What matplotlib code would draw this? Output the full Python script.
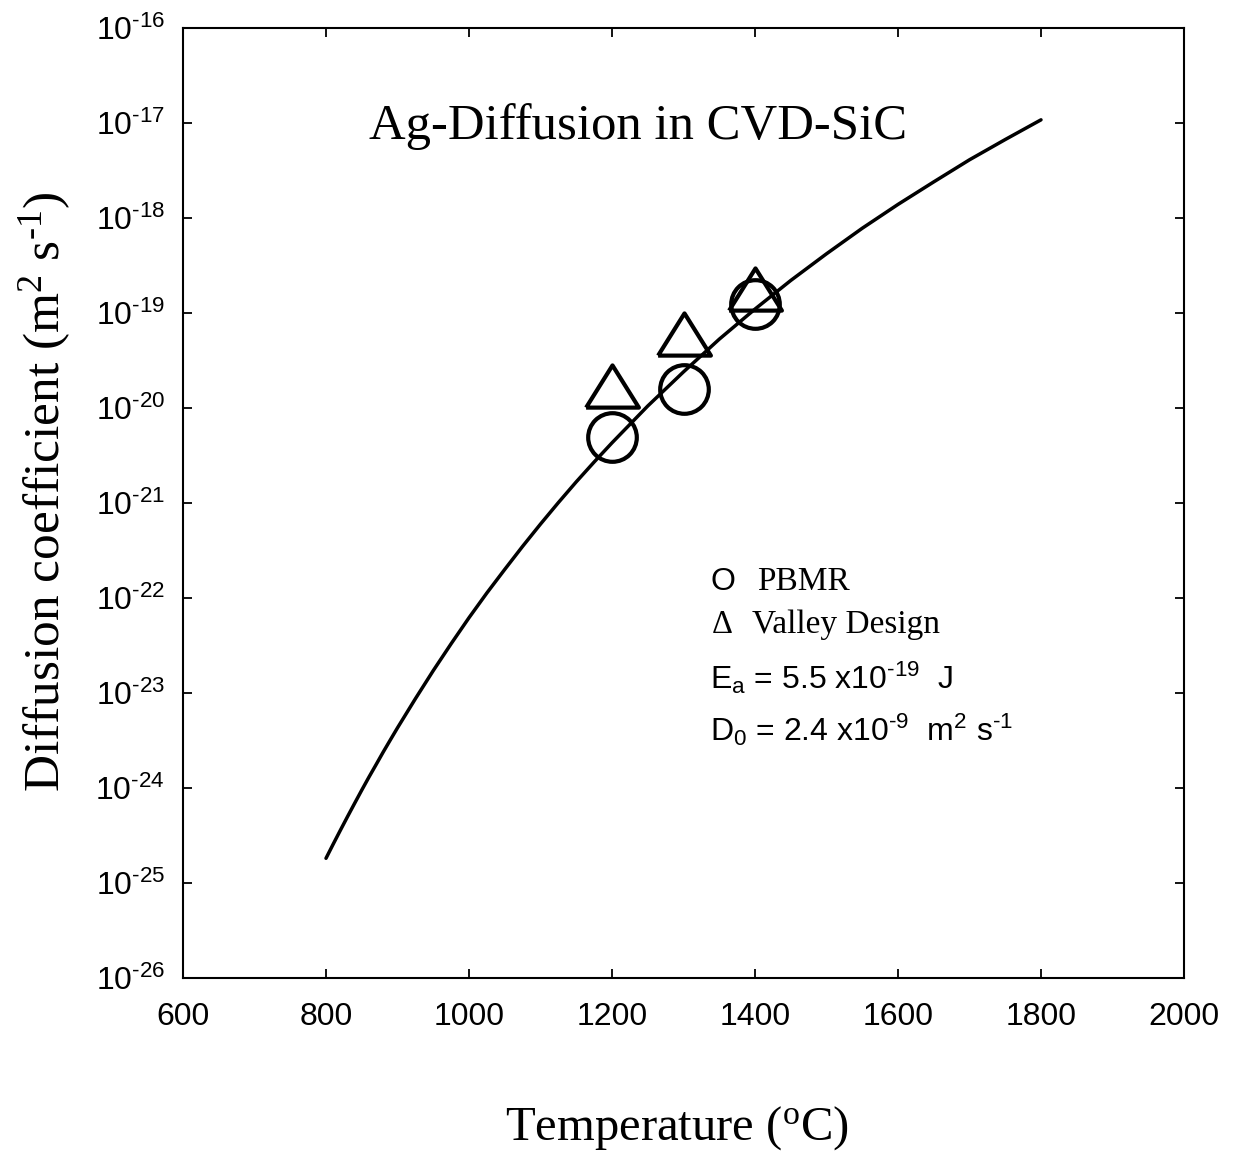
import matplotlib
matplotlib.use("Agg")
import matplotlib.pyplot as plt
from matplotlib.ticker import FixedLocator, FuncFormatter, NullLocator
import numpy as np

# ---- data ----
curve_T = [800, 810, 820, 830, 840, 850, 860, 870, 880, 890, 900, 925, 950,
           975, 1000, 1025, 1050, 1075, 1100, 1125, 1150, 1175, 1200, 1250,
           1300, 1350, 1400, 1450, 1500, 1550, 1600, 1650, 1700, 1750, 1800]
curve_D = [1.82e-25, 2.56e-25, 3.58e-25, 4.98e-25, 6.89e-25, 9.5e-25,
           1.30e-24, 1.76e-24, 2.39e-24, 3.21e-24, 4.3e-24, 8.7e-24, 1.72e-23,
           3.3e-23, 6.2e-23, 1.13e-22, 2.0e-22, 3.5e-22, 6.0e-22, 1.01e-21,
           1.67e-21, 2.7e-21, 4.3e-21, 1.05e-20, 2.4e-20, 5.3e-20, 1.1e-19,
           2.2e-19, 4.2e-19, 7.8e-19, 1.39e-18, 2.4e-18, 4.1e-18, 6.7e-18,
           1.08e-17]

pbmr_T = [1200, 1300, 1400]
pbmr_D = [5.0e-21, 1.57e-20, 1.24e-19]

valley_T = [1200, 1300, 1400]
valley_D = [1.7e-20, 6.0e-20, 1.8e-19]

x_ticks = [600, 800, 1000, 1200, 1400, 1600, 1800, 2000]
y_exps = [-26, -25, -24, -23, -22, -21, -20, -19, -18, -17, -16]

W, H = 1236, 1158
fig = plt.figure(figsize=(W / 100, H / 100), dpi=100)
ax = fig.add_axes([183 / W, 1 - 978 / H, (1184 - 183) / W, (978 - 28) / H])

SANS = "Liberation Sans"
SERIF = "Liberation Serif"
HY = "\u2010"

ax.plot(curve_T, curve_D, color="black", lw=2.5, solid_capstyle="round",
        solid_joinstyle="round")

tri = [(-1, -0.8), (1, -0.8), (0, 0.8), (-1, -0.8)]
ax.plot(pbmr_T, pbmr_D, ls="none", marker="o", ms=35, mfc="none",
        mec="black", mew=3)
ax.plot(valley_T, valley_D, ls="none", marker=tri, ms=38, mfc="none",
        mec="black", mew=3)

ax.set_xlim(600, 2000)
ax.set_yscale("log")
ax.set_ylim(1e-26, 1e-16)

ax.xaxis.set_major_locator(FixedLocator(x_ticks))
ax.yaxis.set_major_locator(FixedLocator([10.0 ** e for e in y_exps]))
ax.yaxis.set_minor_locator(NullLocator())
ax.yaxis.set_major_formatter(FuncFormatter(
    lambda v, p: r"$\mathregular{10^{%s%d}}$" % (HY, abs(int(round(np.log10(v)))))))

ax.tick_params(axis="both", which="major", direction="in", length=6.5,
               width=1.3, top=True, right=True, labelsize=23,
               color="black")
ax.tick_params(axis="x", pad=17)
ax.tick_params(axis="y", pad=13)
for lab in ax.get_xticklabels() + ax.get_yticklabels():
    lab.set_fontfamily(SANS)
for s in ax.spines.values():
    s.set_linewidth(1.5)

# title inside the axes
fig.text(638 / W, 1 - 127 / H, "Ag-Diffusion in CVD-SiC", family=SERIF,
         fontsize=36.5, ha="center", va="center")

# axis labels
fig.text(677 / W, 1 - 1128 / H, r"Temperature ($\mathregular{^{o}}$C)",
         family=SERIF, fontsize=35, ha="center", va="center")
fig.text(45 / W, 1 - 492 / H,
         r"Diffusion coefficient (m$\mathregular{^{2}}$ s$\mathregular{^{" + HY + r"1}}$)",
         family=SERIF, fontsize=37, ha="center", va="center", rotation=90)

# legend / annotation block
x0 = 710 / W
fig.text(x0, 1 - 582 / H, "O", family=SANS, fontsize=23, ha="left", va="center")
fig.text(757 / W, 1 - 582 / H, "PBMR", family=SERIF, fontsize=24,
         ha="left", va="center")
fig.text(712 / W, 1 - 625 / H, "\u0394", family=SERIF, fontsize=23.5,
         ha="left", va="center")
fig.text(752 / W, 1 - 625 / H, "Valley Design", family=SERIF, fontsize=24,
         ha="left", va="center")
fig.text(x0, 1 - 678 / H,
         r"E$\mathregular{_{a}}$ = 5.5 x10$\mathregular{^{" + HY + r"19}}$  J",
         family=SANS, fontsize=23, ha="left", va="center")
fig.text(x0, 1 - 730 / H,
         r"D$\mathregular{_{0}}$ = 2.4 x10$\mathregular{^{" + HY +
         r"9}}$  m$\mathregular{^{2}}$ s$\mathregular{^{" + HY + r"1}}$",
         family=SANS, fontsize=23, ha="left", va="center")

fig.savefig("out.png", dpi=100, facecolor="white")
